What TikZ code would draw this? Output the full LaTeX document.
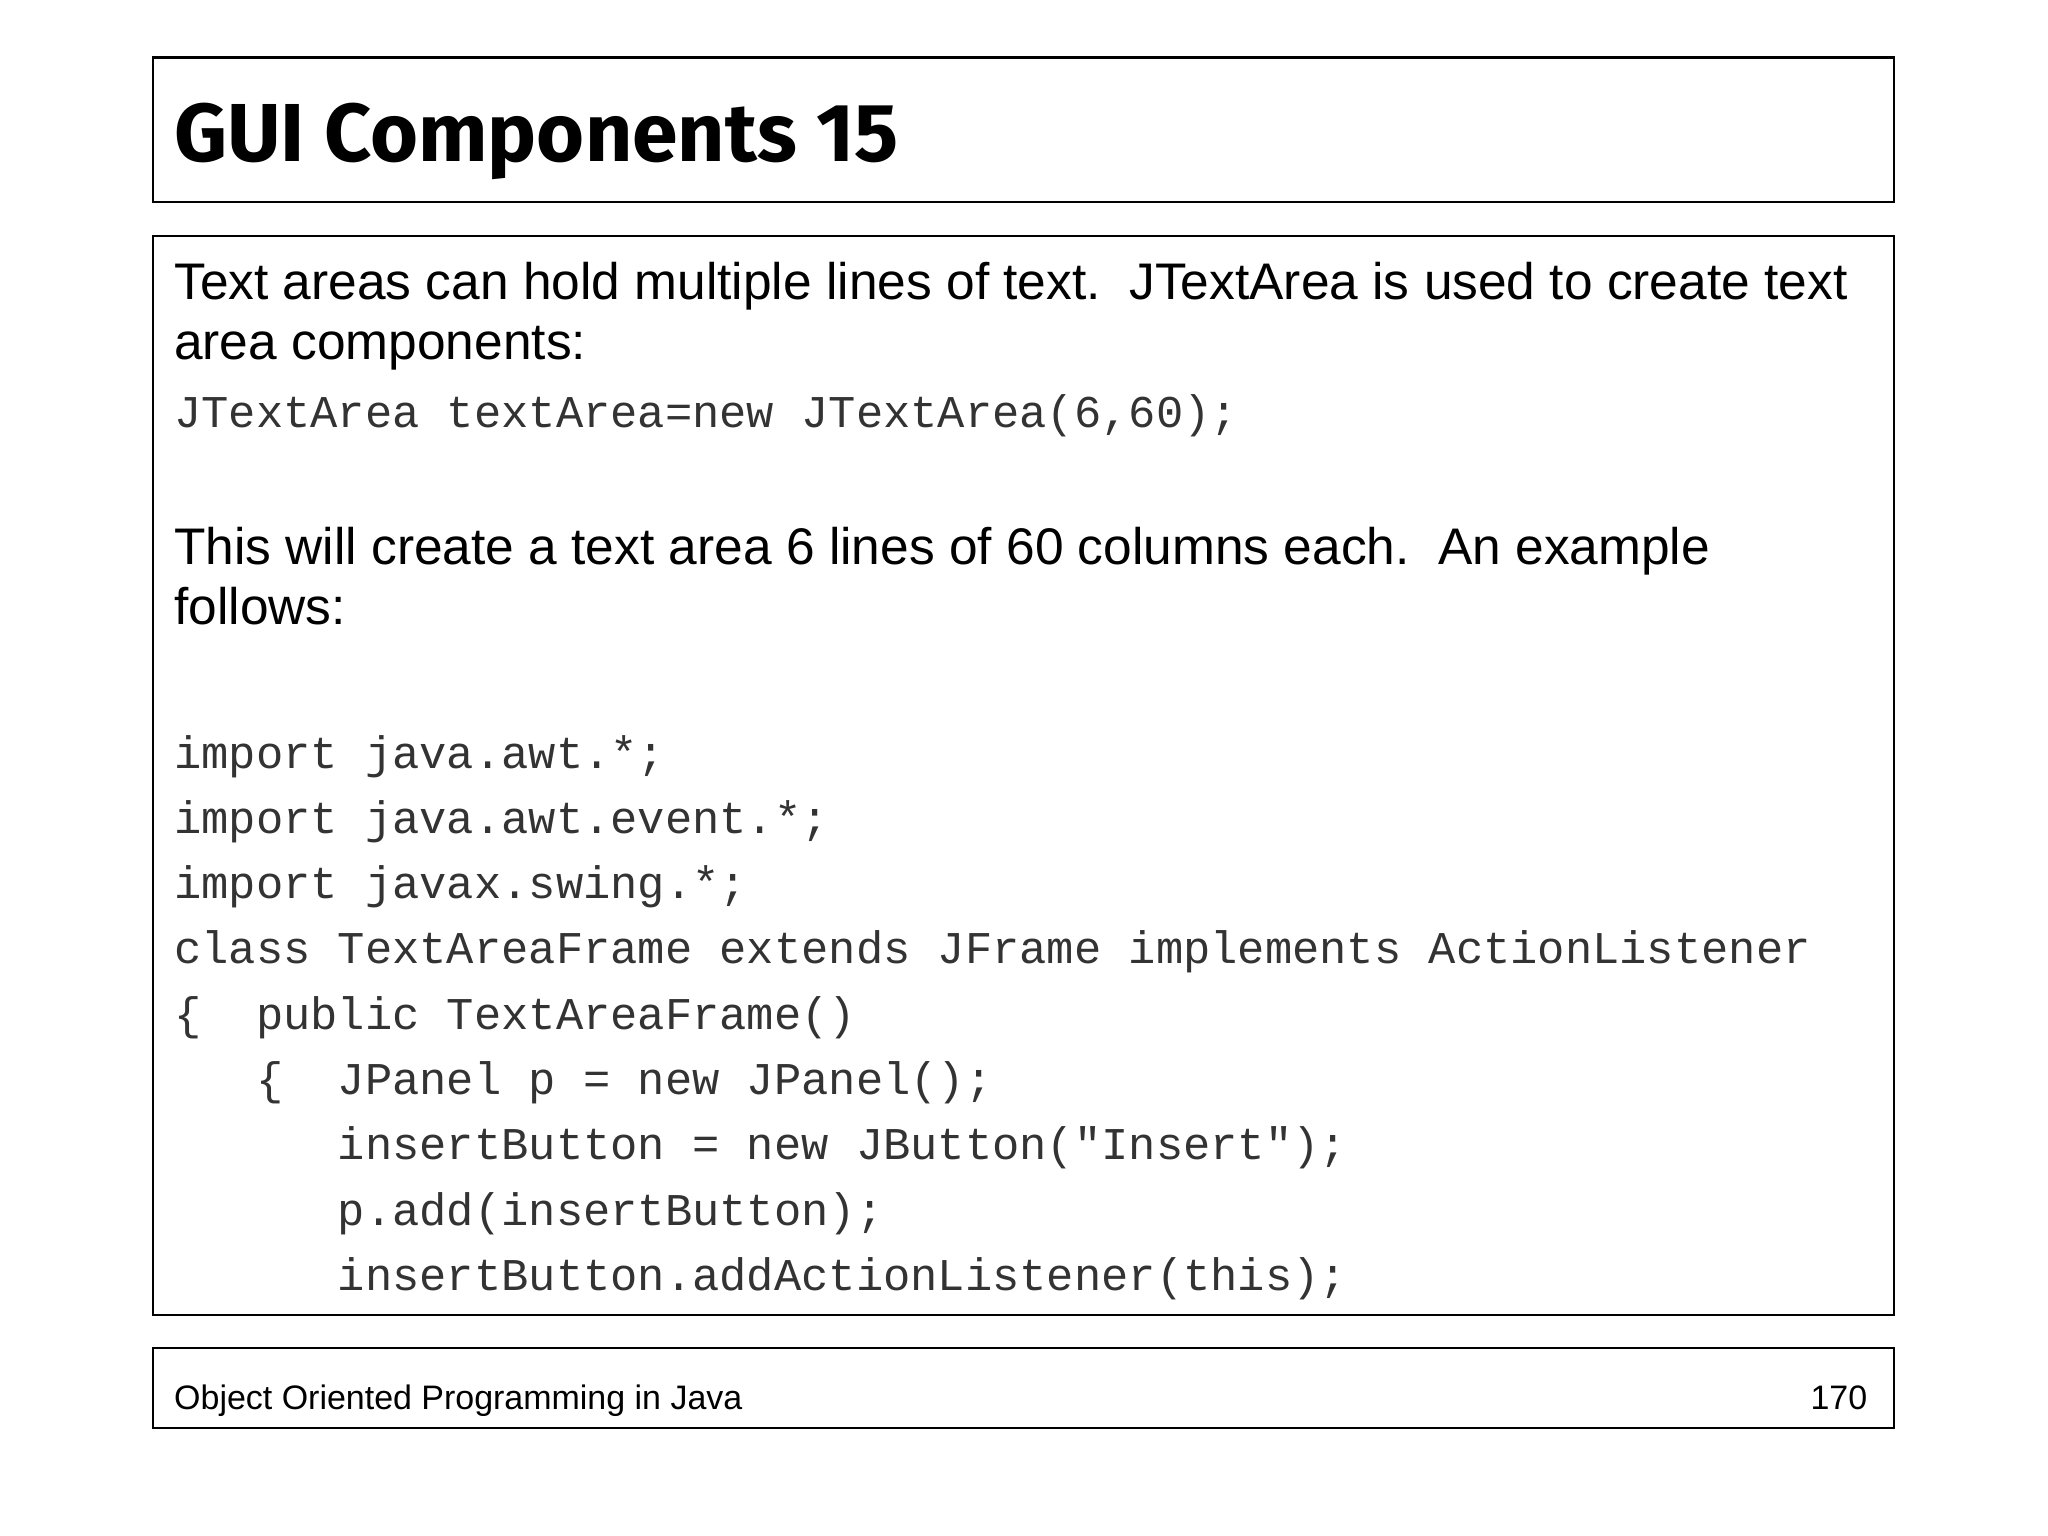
\documentclass[tikz,border=0pt]{standalone}
\usepackage{fontspec}
\setmainfont{Liberation Sans}
\setmonofont{Liberation Mono}
\newfontfamily\titlefont{Fira Sans}
\begin{document}
\begin{tikzpicture}[x=0.5pt,y=-0.5pt,
  frame/.style={draw=black,line width=0.8pt},
  body/.style={anchor=base west,inner sep=0pt,font=\fontsize{19.7}{24}\selectfont},
  code/.style={anchor=base west,inner sep=0pt,text=black!80,font=\ttfamily\fontsize{17.4}{20}\selectfont},
  foot/.style={inner sep=0pt,font=\fontsize{13}{15}\selectfont}]
\useasboundingbox[fill=white] (0,0) rectangle (1568,1176);
\draw[frame] (117,44) rectangle (1450,155);
\draw[frame] (117,181) rectangle (1450,1007);
\draw[frame] (117,1032) rectangle (1450,1093);
\node[anchor=base west,inner sep=0pt,font=\titlefont\bfseries\fontsize{31.5}{36}\selectfont] (title) at (133,124) {GUI Components 15};
\node[body] (t1) at (133,229) {Text areas can hold multiple lines of text.\ \ JTextArea is used to create text};
\node[body] (t2) at (133,275) {area components:};
\node[code] (c0) at (133,327) {JTextArea textArea=new JTextArea(6,60);};
\node[body] (t3) at (133,432) {This will create a text area 6 lines of 60 columns each.\ \ An example};
\node[body] (t4) at (133,478) {follows:};
\node[code] (c1) at (133,588) {import java.awt.*;};
\node[code] (c2) at (133,638) {import java.awt.event.*;};
\node[code] (c3) at (133,688) {import javax.swing.*;};
\node[code] (c4) at (133,738) {class TextAreaFrame extends JFrame implements ActionListener};
\node[code] (c5) at (133,788) {\{\ \ public TextAreaFrame()};
\node[code] (c6) at (133,838) {\ \ \ \{\ \ JPanel p = new JPanel();};
\node[code] (c7) at (133,888) {\ \ \ \ \ \ insertButton = new JButton("Insert");};
\node[code] (c8) at (133,938) {\ \ \ \ \ \ p.add(insertButton);};
\node[code] (c9) at (133,988) {\ \ \ \ \ \ insertButton.addActionListener(this);};
\node[foot,anchor=base west] (f1) at (133,1079) {Object Oriented Programming in Java};
\node[foot,anchor=base east] (f2) at (1430,1079) {170};
\end{tikzpicture}
\end{document}
